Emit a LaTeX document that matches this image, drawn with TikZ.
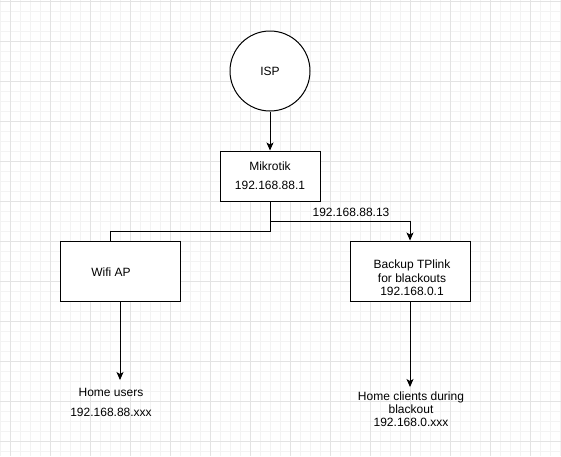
\documentclass[tikz,border=0pt]{standalone}
\usepackage{fontspec}
\setmainfont{Liberation Sans}
\usetikzlibrary{arrows.meta,calc}
\definecolor{gridminor}{HTML}{F3F3F3}
\definecolor{gridmajor}{HTML}{E3E3E3}
\begin{document}
\begin{tikzpicture}[x=1pt,y=-1pt,
  every node/.style={font=\fontsize{12}{14}\selectfont},
  box/.style={draw, line width=1pt, rectangle, inner sep=0pt},
  conn/.style={line width=1pt, line join=miter},
  arr/.style={conn, -{Stealth[length=8pt,width=7pt,inset=2pt]}},
  txt/.style={align=center, inner sep=0pt}]
\useasboundingbox (0,0) rectangle (561,456);
\fill[white] (0,0) rectangle (561,456);
% grid
\foreach \x in {0,10,...,560} \draw[gridminor,line width=0.8pt] (\x,0) -- (\x,456);
\foreach \y in {1,11,...,451} \draw[gridminor,line width=0.8pt] (0,\y) -- (561,\y);
\foreach \x in {10,50,...,530} \draw[gridmajor,line width=0.8pt] (\x,0) -- (\x,456);
\foreach \y in {1,41,...,441} \draw[gridmajor,line width=0.8pt] (0,\y) -- (561,\y);
% nodes
\node[box, circle, minimum size=80pt, fill=white] (isp) at (270,71) {ISP};
\node[box, fill=white, minimum width=100pt, minimum height=50pt, align=center, font=\fontsize{12}{19}\selectfont] (mik) at (270,176) {Mikrotik\\192.168.88.1};
\node[box, fill=white, minimum width=120pt, minimum height=60pt,
  label={[font=\fontsize{12}{14}\selectfont, xshift=-9pt, yshift=-1pt]center:Wifi AP}] (wifi) at (120,271) {};
\node[box, fill=white, minimum width=120pt, minimum height=60pt] (tp) at (410,271) {};
\node[txt, font=\fontsize{12}{13.5}\selectfont] (tptxt) at (412,278) {Backup TPlink\\for blackouts\\192.168.0.1};
\node[txt, font=\fontsize{12}{20}\selectfont] (users) at (111,402) {Home users\\192.168.88.xxx};
\node[txt, font=\fontsize{12}{13.3}\selectfont] (clients) at (411,409) {Home clients during\\blackout\\192.168.0.xxx};
\node[txt] (lbl) at (351,212) {192.168.88.13};
\coordinate (usersin) at (120,380);
\coordinate (clientsin) at (410,387);
% connectors
\draw[arr] (isp.south) -- (mik.north);
\draw[conn] (mik.south) -- ++(0,30) -| ($(wifi.north)+(-10,0)$);
\draw[arr] (mik.south) -- ++(0,20) -| (tp.north);
\draw[arr] (wifi.south) -- (usersin);
\draw[arr] (tp.south) -- (clientsin);
\end{tikzpicture}
\end{document}
